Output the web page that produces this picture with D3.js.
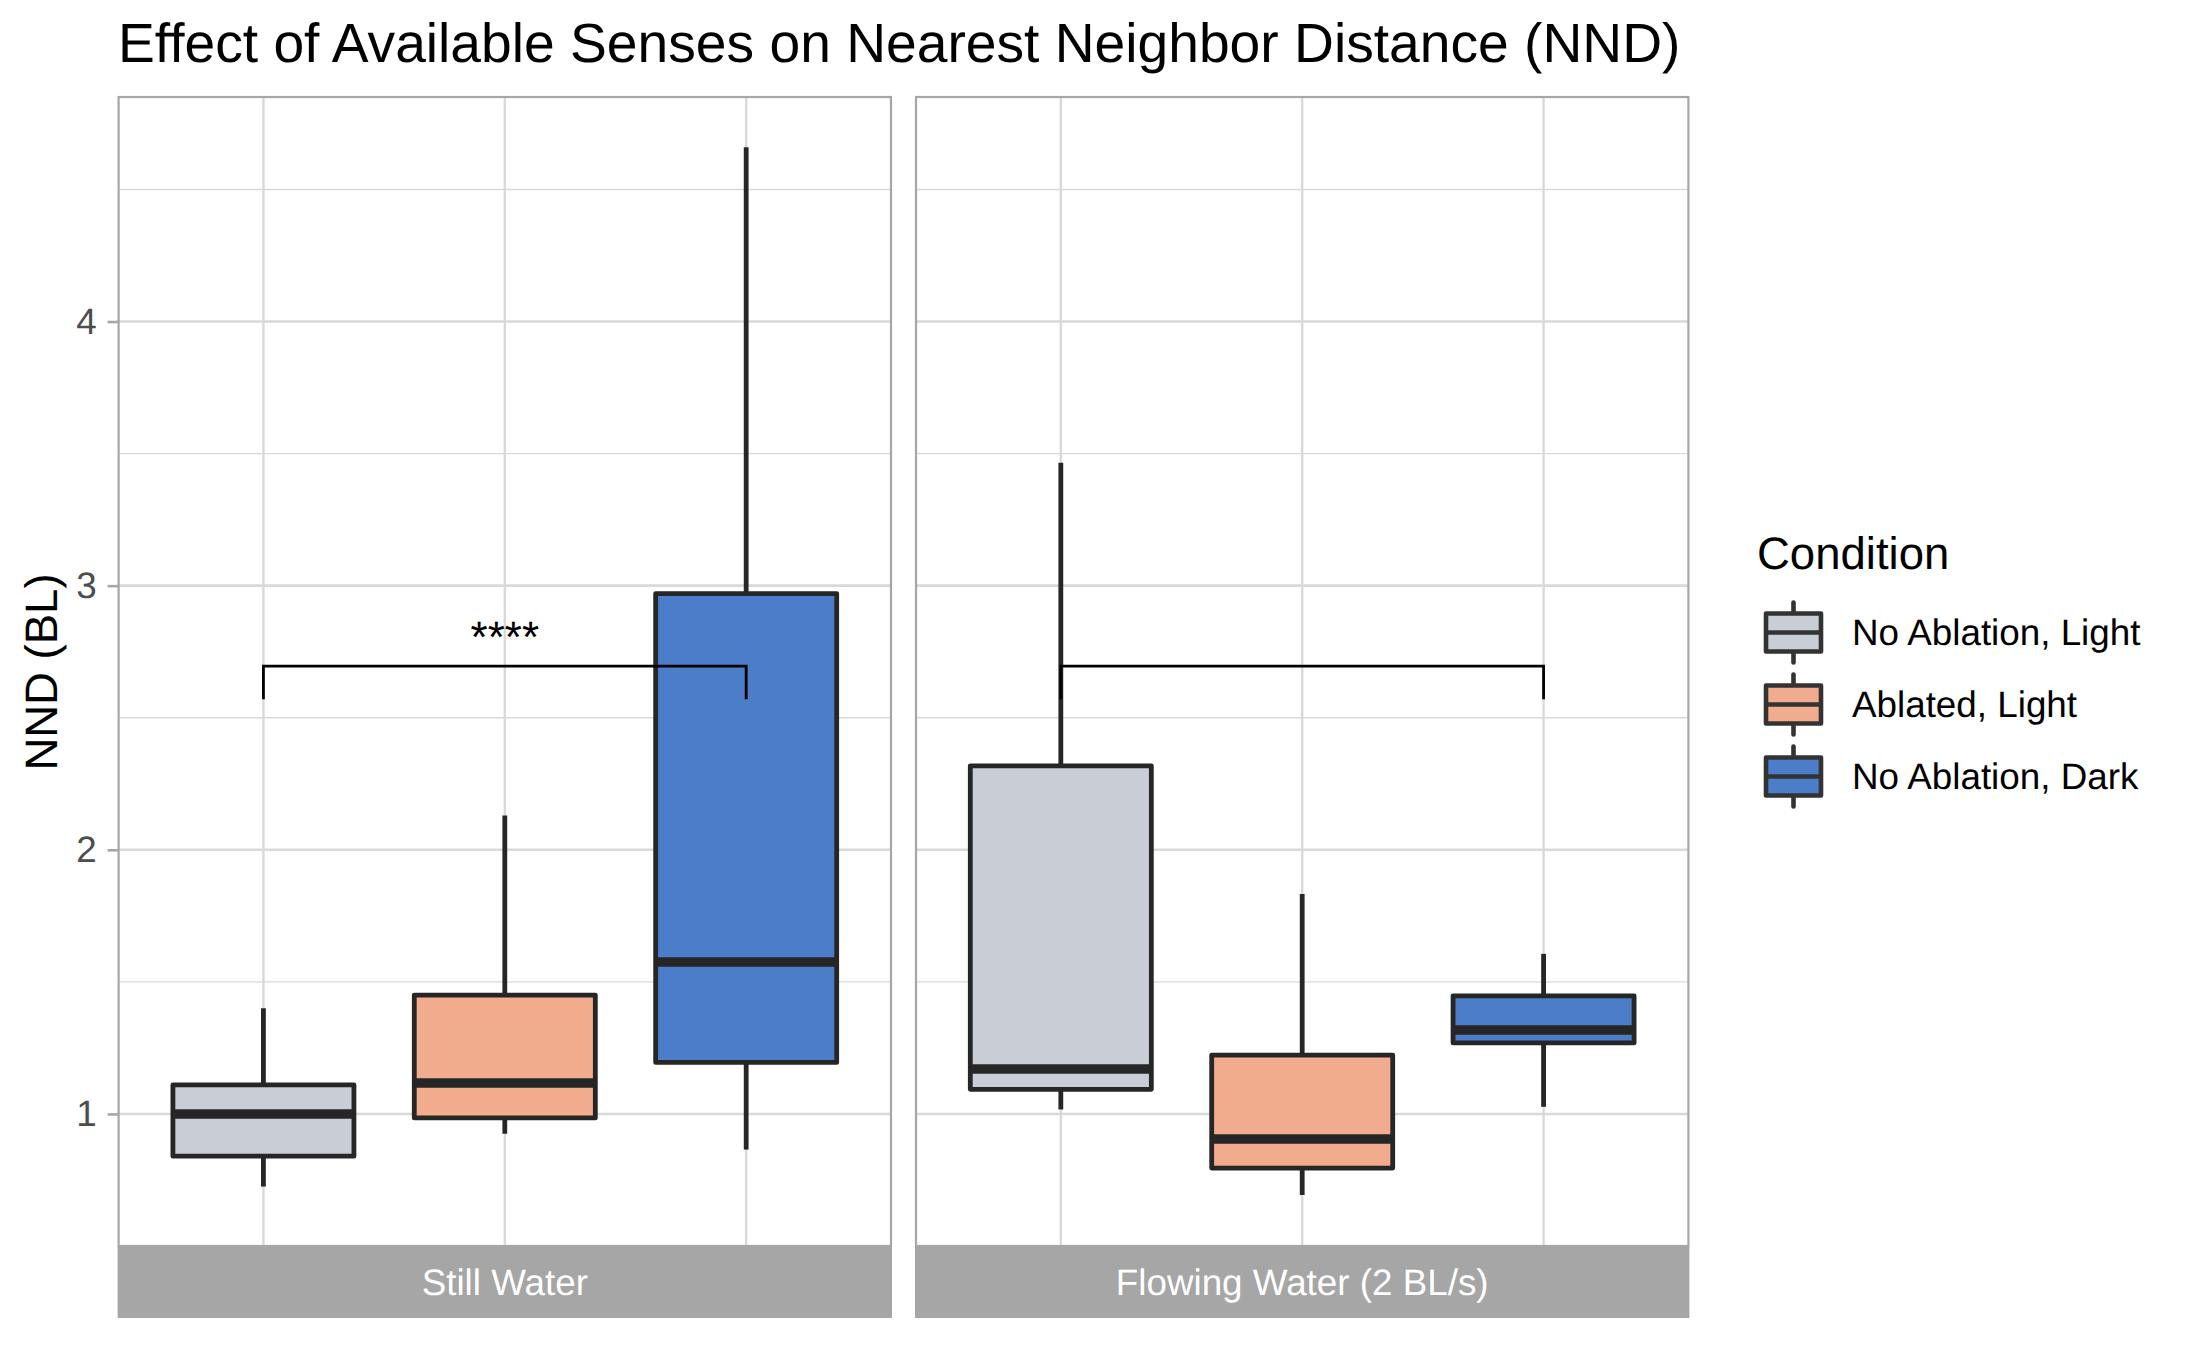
<!DOCTYPE html>
<html><head><meta charset="utf-8">
<script src="https://cdn.jsdelivr.net/npm/d3@7"></script>
<style>html,body{margin:0;padding:0;background:#fff}svg{display:block}text{font-family:"Liberation Sans",Arial,sans-serif;text-rendering:geometricPrecision}</style>
</head><body><svg id="c" width="2187" height="1351"></svg>
<script>
const conditions = ["No Ablation, Light","Ablated, Light","No Ablation, Dark"];
const fills = ["#C9CDD5","#F1AB8D","#4C7DC9"];
const panels = ["Still Water","Flowing Water (2 BL/s)"];
const whiskerLow  = [[0.725,0.925,0.865],[1.017,0.693,1.027]];
const boxLow      = [[0.84,0.985,1.195],[1.093,0.795,1.269]];
const medians     = [[1.0,1.117,1.575],[1.17,0.905,1.318]];
const boxHigh     = [[1.11,1.45,2.97],[2.318,1.223,1.447]];
const whiskerHigh = [[1.40,2.13,4.66],[3.465,1.833,1.606]];
const majorTicks = [1,2,3,4];
const minorTicks = [1.5,2.5,3.5,4.5];
const bracketY = 2.695, bracketTip = 2.57;
const bracketLabels = ["****",""];

const svg = d3.select("#c");
const ink = "#262626", gridC = "#d9d9d9", frame = "#a6a6a6";
const y = d3.scaleLinear().domain([0.5,4.85]).range([1246,97]);
const panelX = [[118.6,891],[916,1688.4]];

svg.append("text").attr("x",118).attr("y",62).attr("font-size",55.2).attr("fill","#000")
  .text("Effect of Available Senses on Nearest Neighbor Distance (NND)");

panels.forEach((name,p)=>{
  const [x0,x1] = panelX[p];
  const x = d3.scalePoint().domain(conditions).range([x0,x1]).padding(0.6);
  const g = svg.append("g");
  g.selectAll(".mn").data(minorTicks).join("line")
    .attr("x1",x0).attr("x2",x1).attr("y1",d=>y(d)).attr("y2",d=>y(d))
    .attr("stroke",gridC).attr("stroke-width",1.4);
  g.selectAll(".mj").data(majorTicks).join("line")
    .attr("x1",x0).attr("x2",x1).attr("y1",d=>y(d)).attr("y2",d=>y(d))
    .attr("stroke",gridC).attr("stroke-width",2.6);
  g.selectAll(".vg").data(conditions).join("line")
    .attr("x1",d=>x(d)).attr("x2",d=>x(d)).attr("y1",y.range()[1]).attr("y2",y.range()[0])
    .attr("stroke",gridC).attr("stroke-width",2.4);

  const bw = x.step()*0.75;
  conditions.forEach((c,i)=>{
    const cx = x(c);
    g.append("line").attr("x1",cx).attr("x2",cx).attr("y1",y(whiskerHigh[p][i])).attr("y2",y(boxHigh[p][i]))
      .attr("stroke",ink).attr("stroke-width",4.8);
    g.append("line").attr("x1",cx).attr("x2",cx).attr("y1",y(boxLow[p][i])).attr("y2",y(whiskerLow[p][i]))
      .attr("stroke",ink).attr("stroke-width",4.8);
    g.append("rect").attr("x",cx-bw/2).attr("width",bw)
      .attr("y",y(boxHigh[p][i])).attr("height",y(boxLow[p][i])-y(boxHigh[p][i]))
      .attr("fill",fills[i]).attr("stroke",ink).attr("stroke-width",4.8).attr("stroke-linejoin","round");
    g.append("line").attr("x1",cx-bw/2).attr("x2",cx+bw/2).attr("y1",y(medians[p][i])).attr("y2",y(medians[p][i]))
      .attr("stroke",ink).attr("stroke-width",9.6);
  });

  const a = x(conditions[0]), b = x(conditions[2]);
  g.append("path").attr("fill","none").attr("stroke","#000").attr("stroke-width",2.8)
    .attr("d",d3.line()([[a,y(bracketTip)],[a,y(bracketY)],[b,y(bracketY)],[b,y(bracketTip)]]));
  if (bracketLabels[p]) g.append("text").attr("x",x(conditions[1])).attr("y",651.5)
    .attr("text-anchor","middle").attr("font-size",44).attr("fill","#000").text(bracketLabels[p]);

  g.append("rect").attr("x",x0).attr("y",y.range()[1]).attr("width",x1-x0).attr("height",y.range()[0]-y.range()[1])
    .attr("fill","none").attr("stroke",frame).attr("stroke-width",2.2);
  g.append("rect").attr("x",x0-1).attr("y",1246).attr("width",x1-x0+2).attr("height",72).attr("fill",frame);
  g.append("text").attr("x",(x0+x1)/2).attr("y",1295).attr("text-anchor","middle")
    .attr("font-size",36.8).attr("fill","#fff").text(name);
});

const ax = svg.append("g").attr("transform",`translate(${panelX[0][0]},0)`)
  .call(d3.axisLeft(y).tickValues(majorTicks).tickFormat(d3.format("d")).tickSize(11).tickPadding(11));
ax.select(".domain").remove();
ax.selectAll(".tick line").attr("stroke","#a6a6a6").attr("stroke-width",2.6);
ax.selectAll(".tick text").attr("font-size",36.8).attr("fill","#4d4d4d").attr("font-family",'"Liberation Sans"');

svg.append("text").attr("transform",`translate(57,672) rotate(-90)`).attr("text-anchor","middle")
  .attr("font-size",45.5).attr("fill","#000").text("NND (BL)");

svg.append("text").attr("x",1757).attr("y",569).attr("font-size",45.5).attr("fill","#000").text("Condition");
const keyMid = d3.scalePoint().domain(conditions).range([632.5,776.5]);
conditions.forEach((c,i)=>{
  const m = keyMid(c);
  const l = svg.append("g");
  l.append("line").attr("x1",1793.5).attr("x2",1793.5).attr("y1",m-30).attr("y2",m+30)
    .attr("stroke","#333").attr("stroke-width",4.6).attr("stroke-linecap","round");
  l.append("rect").attr("x",1766).attr("y",m-19).attr("width",55).attr("height",38)
    .attr("fill",fills[i]).attr("stroke","#333").attr("stroke-width",4.6).attr("stroke-linejoin","round");
  l.append("line").attr("x1",1766).attr("x2",1821).attr("y1",m).attr("y2",m)
    .attr("stroke","#333").attr("stroke-width",4.6);
  svg.append("text").attr("x",1852).attr("y",m+12).attr("font-size",36.8).attr("fill","#000").text(c);
});
</script></body></html>
